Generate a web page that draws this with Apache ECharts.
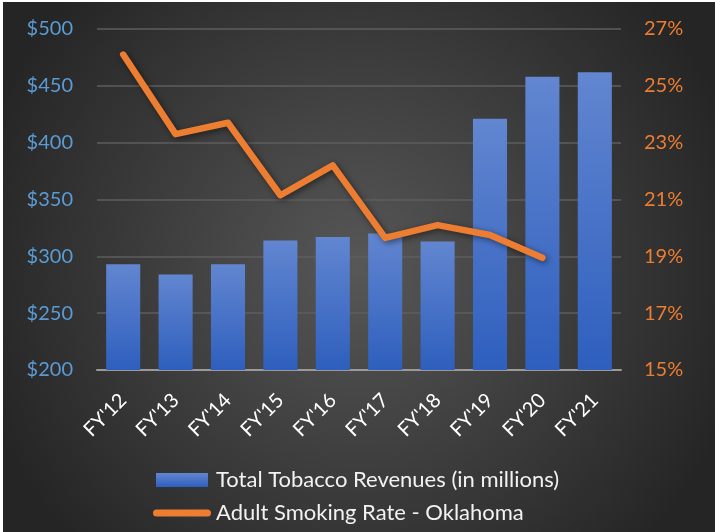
<!DOCTYPE html>
<html>
<head>
<meta charset="utf-8">
<script src="https://cdn.jsdelivr.net/npm/echarts@6/dist/echarts.min.js"></script>
<style>
  html, body { margin: 0; padding: 0; background: #fff; }
  #chart { position: absolute; left: 3px; top: 2px; width: 712px; height: 530px; }
</style>
</head>
<body>
<div id="chart"></div>
<script>
const categories = ["FY'12", "FY'13", "FY'14", "FY'15", "FY'16", "FY'17", "FY'18", "FY'19", "FY'20", "FY'21"];
const revenues = [293, 284, 293, 314, 317, 320, 313, 421, 458, 462];
const smokingRate = [26.1, 23.3, 23.7, 21.15, 22.2, 19.65, 20.1, 19.75, 18.95, null];
const revenueTicks = { min: 200, max: 500, step: 50 };
const rateTicks = { min: 15, max: 27, step: 2 };

const chart = echarts.init(document.getElementById('chart'));
const font = 'Lato, "Open Sans", sans-serif';

chart.setOption({
  backgroundColor: {
    type: 'radial', x: 0.5, y: 0.5, r: 0.75,
    colorStops: [
      { offset: 0, color: '#575757' },
      { offset: 1, color: '#252525' }
    ]
  },
  textStyle: { fontFamily: font },
  grid: { left: 94, right: 94, top: 27, bottom: 162 },
  legend: {
    orient: 'vertical',
    left: 145,
    top: 462,
    height: 68,
    itemWidth: 58,
    itemHeight: 14,
    itemGap: 11,
    textStyle: { color: '#f2f2f2', fontSize: 22, fontFamily: font },
    data: [
      { name: 'Total Tobacco Revenues (in millions)', icon: 'path://M3,0 L55,0 L55,14 L3,14 Z' },
      {
        name: 'Adult Smoking Rate - Oklahoma',
        icon: 'path://M3.5,0 L54.5,0 A3.5,3.5 0 0 1 54.5,7 L3.5,7 A3.5,3.5 0 0 1 3.5,0 Z',
        itemStyle: { color: '#ed7d31', borderWidth: 0 },
        lineStyle: { width: 0 }
      }
    ]
  },
  xAxis: {
    type: 'category',
    data: categories,
    axisLine: { lineStyle: { color: '#9a9a9a', width: 2 } },
    axisTick: { show: false },
    axisLabel: { color: '#ffffff', fontSize: 20, rotate: 45, margin: 27, fontFamily: font }
  },
  yAxis: [
    {
      type: 'value',
      min: revenueTicks.min, max: revenueTicks.max, interval: revenueTicks.step,
      axisLine: { show: false },
      axisTick: { show: false },
      splitLine: { lineStyle: { color: '#5e5e5e', width: 1.5 } },
      axisLabel: { color: '#5b9bd5', fontSize: 20, margin: 24, formatter: '${value}', fontFamily: font }
    },
    {
      type: 'value',
      min: rateTicks.min, max: rateTicks.max, interval: rateTicks.step,
      axisLine: { show: false },
      axisTick: { show: false },
      splitLine: { show: false },
      axisLabel: { color: '#ed7d31', fontSize: 20, margin: 23, formatter: '{value}%', fontFamily: font }
    }
  ],
  series: [
    {
      name: 'Total Tobacco Revenues (in millions)',
      type: 'bar',
      data: revenues,
      barWidth: '65%',
      itemStyle: {
        color: {
          type: 'linear', x: 0, y: 0, x2: 0, y2: 1,
          colorStops: [
            { offset: 0, color: '#6286d0' },
            { offset: 1, color: '#2e5fbe' }
          ]
        },
        shadowBlur: 8,
        shadowColor: 'rgba(0,0,0,0.45)',
        shadowOffsetX: 2,
        shadowOffsetY: 2
      }
    },
    {
      name: 'Adult Smoking Rate - Oklahoma',
      type: 'line',
      yAxisIndex: 1,
      data: smokingRate,
      symbol: 'none',
      color: '#ed7d31',
      lineStyle: {
        color: '#ed7d31', width: 6.5, cap: 'round', join: 'round',
        shadowBlur: 6, shadowColor: 'rgba(0,0,0,0.5)', shadowOffsetX: 2, shadowOffsetY: 2
      }
    }
  ]
});
</script>
</body>
</html>
